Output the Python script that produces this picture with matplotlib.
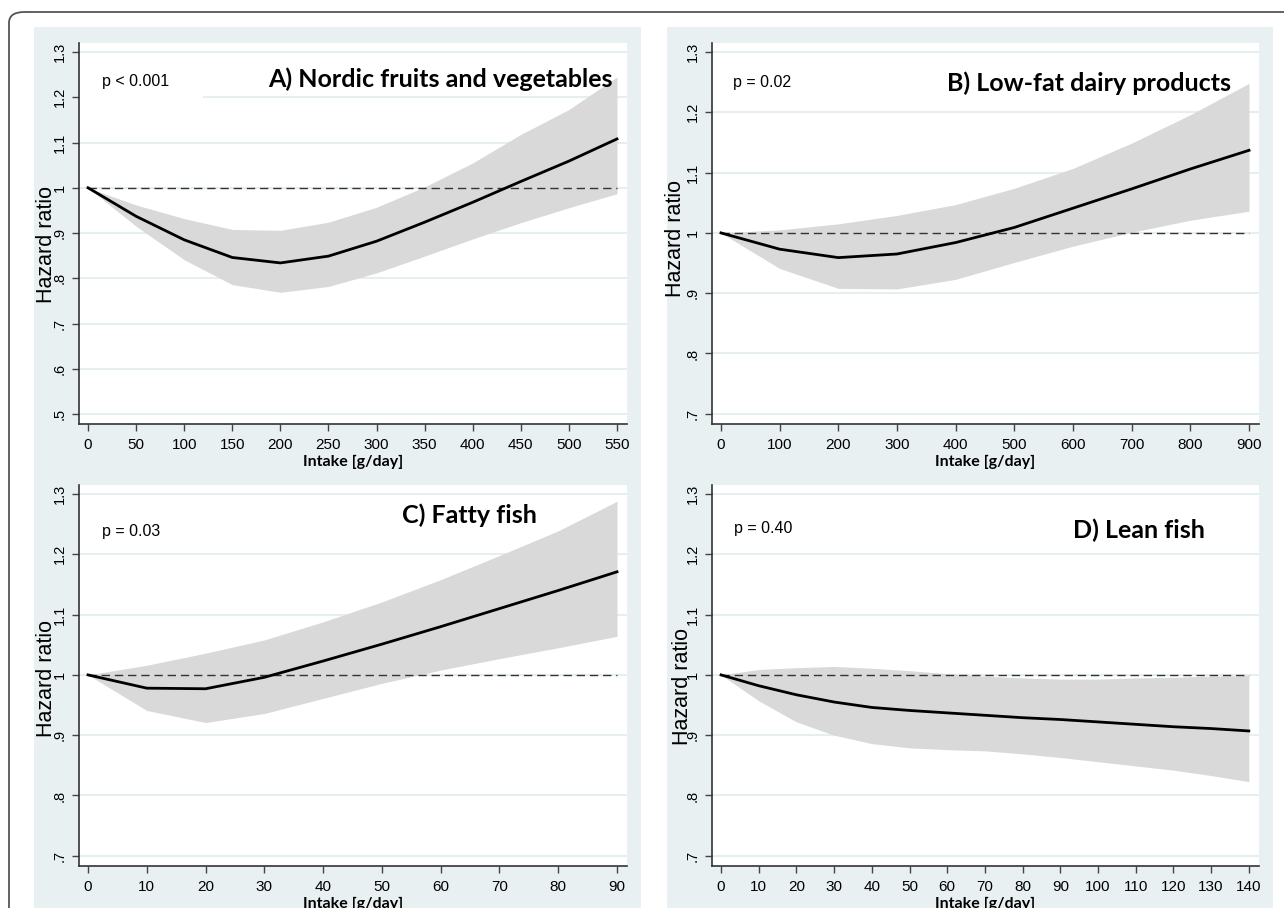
'''
spline plots of hazard ratio vs intake, four food groups
'''

import matplotlib
matplotlib.use('Agg')
import matplotlib.pyplot as plt
from matplotlib.patches import Rectangle, FancyBboxPatch

# ---- data ----
# A) Nordic fruits and vegetables
a_x = [0, 50, 100, 150, 200, 250, 300, 350, 400, 450, 500, 550]
a_hr = [1.0, 0.937, 0.885, 0.846, 0.834, 0.849, 0.882, 0.924, 0.968, 1.014, 1.059, 1.108]
a_hi = [1.0, 0.962, 0.932, 0.908, 0.906, 0.924, 0.957, 1.002, 1.055, 1.118, 1.173, 1.245]
a_lo = [1.0, 0.915, 0.841, 0.786, 0.769, 0.782, 0.812, 0.849, 0.887, 0.923, 0.956, 0.987]

# B) Low-fat dairy products
b_x = [0, 100, 200, 300, 400, 500, 600, 700, 800, 900]
b_hr = [1.0, 0.973, 0.959, 0.965, 0.984, 1.009, 1.041, 1.073, 1.106, 1.137]
b_hi = [1.0, 1.005, 1.015, 1.029, 1.047, 1.074, 1.107, 1.149, 1.196, 1.248]
b_lo = [1.0, 0.941, 0.908, 0.907, 0.923, 0.951, 0.978, 1.001, 1.021, 1.036]

# C) Fatty fish
c_x = [0, 10, 20, 30, 40, 50, 60, 70, 80, 90]
c_hr = [1.0, 0.978, 0.977, 0.996, 1.023, 1.051, 1.080, 1.110, 1.140, 1.171]
c_hi = [1.0, 1.016, 1.036, 1.058, 1.088, 1.121, 1.158, 1.198, 1.239, 1.288]
c_lo = [1.0, 0.941, 0.921, 0.936, 0.961, 0.986, 1.008, 1.027, 1.045, 1.064]

# D) Lean fish
d_x = [0, 10, 20, 30, 40, 50, 60, 70, 80, 90, 100, 110, 120, 130, 140]
d_hr = [1.0, 0.982, 0.967, 0.955, 0.946, 0.941, 0.937, 0.933, 0.929, 0.926, 0.922, 0.918, 0.914, 0.911, 0.907]
d_hi = [1.0, 1.009, 1.012, 1.014, 1.011, 1.007, 1.002, 0.998, 0.995, 0.993, 0.993, 0.995, 0.996, 0.998, 0.999]
d_lo = [1.0, 0.957, 0.922, 0.900, 0.886, 0.879, 0.876, 0.874, 0.869, 0.863, 0.856, 0.849, 0.842, 0.833, 0.823]

titles = ['A) Nordic fruits and vegetables', 'B) Low-fat dairy products',
          'C) Fatty fish', 'D) Lean fish']
pvals = ['p < 0.001', 'p = 0.02', 'p = 0.03', 'p = 0.40']
xticks = [list(range(0, 551, 50)), list(range(0, 901, 100)),
          list(range(0, 91, 10)), list(range(0, 141, 10))]
yticks = [[0.5, 0.6, 0.7, 0.8, 0.9, 1.0, 1.1, 1.2, 1.3],
          [0.7, 0.8, 0.9, 1.0, 1.1, 1.2, 1.3],
          [0.7, 0.8, 0.9, 1.0, 1.1, 1.2, 1.3],
          [0.7, 0.8, 0.9, 1.0, 1.1, 1.2, 1.3]]


def stata_lab(v):
    #stata style labels: .9 , 1 , 1.1
    s = '%.1f' % v
    if s.endswith('.0'):
        s = s[:-2]
    if s.startswith('0'):
        s = s[1:]
    return s


W, H = 1284, 908
fig = plt.figure(figsize=(W/100., H/100.), dpi=100)
fig.patch.set_facecolor('white')

bg = '#e9f0f2'
gridc = '#e6eef0'

# outer frame, runs off the right/bottom edge
fig.patches.append(FancyBboxPatch((9./W, -0.1), 1.2, 1.1-12./H, boxstyle='round,pad=0,rounding_size=0.012',
                                  transform=fig.transFigure, fc='none', ec='#555555', lw=1.3, zorder=-2))
# panel backgrounds
for (x0, x1, y0, y1) in [(34, 641, 27, 456), (667, 1273, 27, 456),
                         (34, 641, 456, 910), (667, 1273, 456, 910)]:
    fig.patches.append(Rectangle((x0/W, 1-y1/H), (x1-x0)/W, (y1-y0)/H,
                                 transform=fig.transFigure, fc=bg, ec='none', zorder=-1))

# axes boxes in pixels: left, right, top, bottom
boxes = [(79, 627, 43, 424), (712, 1259, 43, 424),
         (79, 627, 485, 866), (712, 1259, 485, 866)]
xlims = [(-9.4, 560.4), (-15.3, 917), (-1.53, 91.7), (-2.4, 142.7)]
ylims = [(0.478, 1.32), (0.683, 1.315), (0.683, 1.315), (0.683, 1.315)]
data = [(a_x, a_hr, a_lo, a_hi), (b_x, b_hr, b_lo, b_hi),
        (c_x, c_hr, c_lo, c_hi), (d_x, d_hr, d_lo, d_hi)]
ylab_pos = [(-0.041, 0.472), (-0.047, 0.486), (-0.041, 0.491), (-0.034, 0.472)]
title_pos = [(0.973, 0.905), (0.949, 0.895), (0.836, 0.921), (0.901, 0.882)]
p_pos = [(0.042, 0.898), (0.038, 0.896), (0.042, 0.877), (0.040, 0.885)]

for i in range(4):
    l, r, t, b = boxes[i]
    ax = fig.add_axes([l/W, 1-b/H, (r-l)/W, (b-t)/H])
    ax.set_facecolor('white')
    x, hr, lo, hi = data[i]
    for yv in yticks[i]:
        ax.axhline(yv, color=gridc, lw=1.5, zorder=0)
    ax.fill_between(x, lo, hi, color='#d9d9d9', lw=0, zorder=1)
    ax.plot([x[0], x[-1]], [1, 1], color='#333333', lw=1.0, ls=(0, (6, 3.5)), zorder=2)
    ax.plot(x, hr, color='black', lw=2.0, zorder=3)

    ax.set_xlim(xlims[i])
    ax.set_ylim(ylims[i])
    ax.set_xticks(xticks[i])
    ax.set_xticklabels([str(v) for v in xticks[i]], fontsize=11, family='Liberation Sans')
    ax.set_yticks(yticks[i])
    ax.set_yticklabels([stata_lab(v) for v in yticks[i]], fontsize=10.5, family='Liberation Sans',
                       rotation=90, va='center')
    ax.tick_params(direction='out', length=5, width=1, color='#444444')
    ax.tick_params(axis='x', pad=5)
    ax.tick_params(axis='y', pad=4)
    for s in ['top', 'right']:
        ax.spines[s].set_visible(False)
    for s in ['left', 'bottom']:
        ax.spines[s].set_color('#333333')
        ax.spines[s].set_linewidth(1.2)

    ax.set_xlabel('Intake [g/day]', fontsize=11.5, family='Lato', fontweight='bold', labelpad=2.5)
    ax.set_ylabel('Hazard ratio', fontsize=15.5, family='Liberation Sans')
    ax.yaxis.set_label_coords(*ylab_pos[i])

    ax.text(title_pos[i][0], title_pos[i][1], titles[i], transform=ax.transAxes,
            ha='right', va='center', fontsize=18, family='Lato', fontweight='bold')
    ax.text(p_pos[i][0], p_pos[i][1], pvals[i], transform=ax.transAxes,
            ha='left', va='center', fontsize=11.5, family='Liberation Sans', zorder=4)
    if i == 0:
        # text box behind the p-value hides part of the 1.2 gridline
        ax.add_patch(Rectangle((0, (424-102.)/381), (203-79.)/548, 32./381,
                               transform=ax.transAxes, fc='white', ec='none', zorder=0.5))

plt.savefig('out.png', dpi=100)
